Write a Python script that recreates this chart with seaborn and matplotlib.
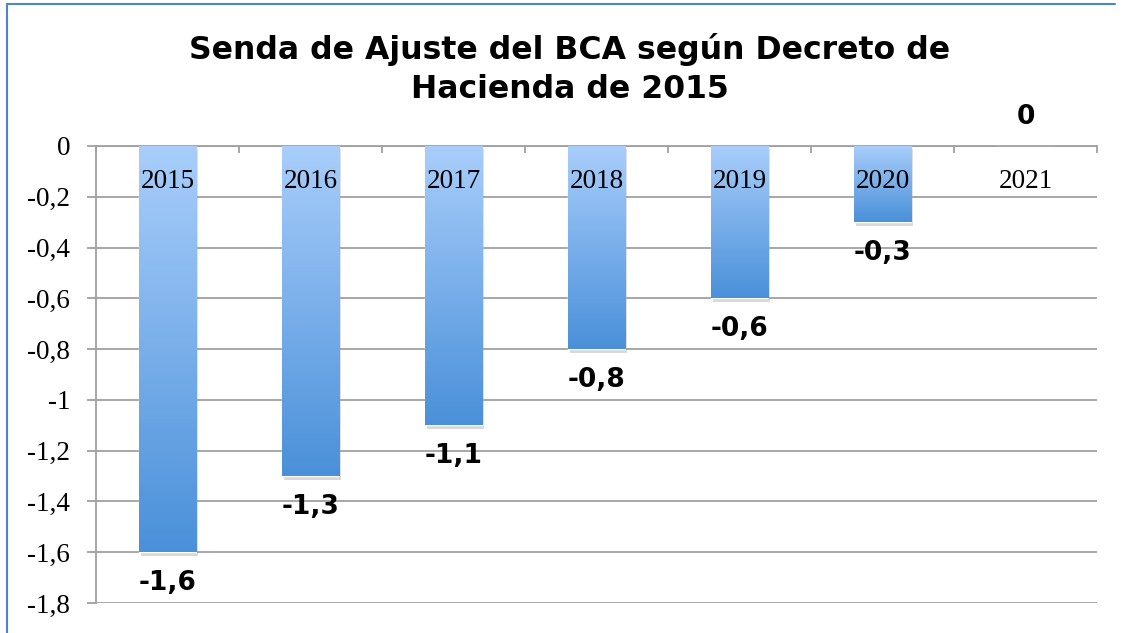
import numpy as np
import pandas as pd
import matplotlib
matplotlib.use("Agg")
import matplotlib.pyplot as plt
import matplotlib.patheffects as pe
from matplotlib.lines import Line2D
from matplotlib.ticker import FuncFormatter
import seaborn as sns

# Data
years = ["2015", "2016", "2017", "2018", "2019", "2020", "2021"]
values = [-1.6, -1.3, -1.1, -0.8, -0.6, -0.3, 0.0]
value_labels = ["-1,6", "-1,3", "-1,1", "-0,8", "-0,6", "-0,3", "0"]

df = pd.DataFrame({"year": years, "value": values})

sns.set_style("white")
plt.rcParams['font.family'] = ['DejaVu Sans']
plt.rcParams['text.color'] = 'black'
plt.rcParams['ytick.labelcolor'] = 'black'

fig = plt.figure(figsize=(11.24, 6.33), dpi=100)
ax = fig.add_axes([0.0854, 0.0474, 0.976 - 0.0854, 0.7694 - 0.0474])

sns.barplot(data=df, x="year", y="value", color="#7fb2ec", width=0.4,
            saturation=1, ax=ax)

# vertical gradient in every bar, light at top, darker at bottom
light = np.array([0xa9, 0xce, 0xfb]) / 255
dark = np.array([0x4a, 0x90, 0xd9]) / 255
grad = np.linspace(0, 1, 256)[:, None, None] * (dark - light) + light
grad = np.repeat(grad, 2, axis=1)
for p in ax.patches:
    h = p.get_height()
    if abs(h) < 1e-9:
        continue
    x0 = p.get_x()
    w = p.get_width()
    ymin, ymax = min(0, h), max(0, h)
    p.set_path_effects([pe.SimplePatchShadow(offset=(1.5, -2.5), alpha=0.2, shadow_rgbFace="#444444"), pe.Normal()])
    im = ax.imshow(grad, extent=(x0, x0 + w, ymin, ymax), origin="upper",
                   aspect="auto", zorder=3, interpolation="bilinear")
    im.set_clip_path(p)

ax.set_xlim(-0.5, len(years) - 0.5)
ax.set_ylim(-1.8, 0)

# grid and axes
grid_c = "#a0a0a0"
yt = [round(v, 1) for v in np.arange(-1.8, 0.01, 0.2)]
ax.set_yticks(yt)
ax.yaxis.set_major_formatter(FuncFormatter(
    lambda v, pos: ("0" if abs(v) < 1e-9 else f"{v:g}".replace(".", ","))))
ax.grid(axis="y", color=grid_c, linewidth=1.3, zorder=0)
ax.set_axisbelow(True)
for s in ["right", "bottom"]:
    ax.spines[s].set_visible(False)
ax.spines["left"].set_color(grid_c)
ax.spines["left"].set_linewidth(1.3)
ax.spines["top"].set_color(grid_c)
ax.spines["top"].set_linewidth(1.3)
ax.tick_params(axis="y", length=6.5, width=1.3, color=grid_c, pad=12,
               labelsize=19.5, left=True, labelcolor="black")
for lab in ax.get_yticklabels():
    lab.set_family("Liberation Serif")

# category boundary ticks at top, pointing down
ax.xaxis.tick_top()
ax.set_xticks(np.arange(-0.5, len(years), 1.0))
ax.set_xticklabels([])
ax.tick_params(axis="x", direction="in", length=5, width=1.3, color=grid_c, top=True)
ax.set_xlabel("")
ax.set_ylabel("")

# category labels inside the plot
for i, yr in enumerate(years):
    ax.text(i, -0.138, yr, ha="center", va="center", fontsize=19.5,
            family="Liberation Serif", color="black", zorder=5)

# value labels
for i, (v, lab) in enumerate(zip(values, value_labels)):
    y = v - 0.12 if v < 0 else v + 0.115
    ax.text(i, y, lab, ha="center", va="center", fontsize=19,
            fontweight="bold", color="black", clip_on=False, zorder=5)

fig.text(0.507, 0.891, "Senda de Ajuste del BCA según Decreto de\nHacienda de 2015",
         ha="center", va="center", fontsize=22.7, fontweight="bold",
         color="black", linespacing=1.3)

# chart frame (left and top edge visible)
fc = "#4a86c8"
fig.add_artist(Line2D([7 / 1124, 7 / 1124], [0, 1 - 4 / 633], color=fc, linewidth=1.5))
fig.add_artist(Line2D([7 / 1124, 1115 / 1124], [1 - 4 / 633, 1 - 4 / 633], color=fc, linewidth=1.5))

fig.savefig("out.png", dpi=100)
